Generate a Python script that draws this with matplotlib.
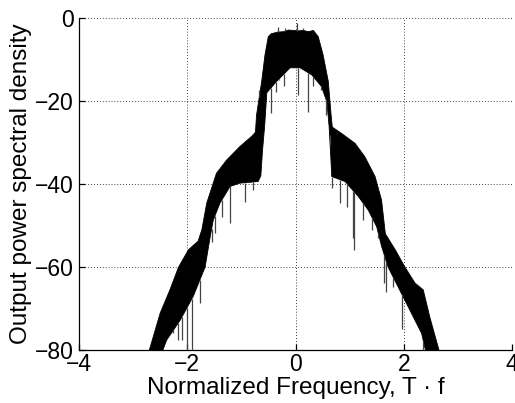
"""Output PSD vs normalized frequency (MATLAB-style look)."""
import numpy as np
import matplotlib
matplotlib.use("Agg")
import matplotlib.pyplot as plt

plt.rcParams["font.family"] = ["Liberation Sans", "DejaVu Sans"]

# upper edge of the dense PSD band, dB
up_freq = [-2.72, -2.70, -2.50, -2.32, -2.16, -2.05, -1.98, -1.89, -1.80, -1.73,
           -1.64, -1.58, -1.52, -1.46, -1.27, -1.03, -0.80, -0.74, -0.72, -0.625,
           -0.564, -0.503, -0.45, -0.33, -0.22, -0.13, -0.04, 0.05, 0.145, 0.24,
           0.33, 0.42, 0.51, 0.606, 0.655, 0.68, 0.85, 1.10, 1.28, 1.47,
           1.59, 1.66, 1.85, 2.02, 2.21, 2.36, 2.48, 2.65, 2.68]
up_db = [-82, -80, -71.1, -65.5, -60, -57.5, -55.9, -54.8, -53.8, -51.0,
         -44.6, -42.2, -39.8, -37.4, -34.2, -31.0, -28.4, -27.5, -23.4, -15.3,
         -8.9, -4.5, -3.8, -3.4, -3.3, -2.9, -3.0, -3.1, -3.0, -3.3,
         -3.0, -4.5, -8.9, -15.3, -23, -26.3, -27.8, -30.2, -33.4, -38.2,
         -43.9, -52, -56, -60, -63.9, -65.5, -72, -80, -82]

# lower edge of the dense band, dB
lo_freq = [-2.72, -2.45, -2.38, -2.13, -1.89, -1.67, -1.58, -1.52, -1.395, -1.21,
           -1.03, -0.69, -0.64, -0.61, -0.57, -0.53, -0.35, -0.10, 0.085, 0.30,
           0.48, 0.58, 0.62, 0.65, 0.67, 0.915, 1.16, 1.345, 1.50, 1.59,
           1.71, 2.02, 2.33, 2.40, 2.68]
lo_db = [-82, -80, -77.6, -72.8, -67.1, -60, -53, -48.7, -44.6, -40.6,
         -39.8, -39.4, -38, -32, -26, -18, -15.3, -12.0, -12.0, -13.7,
         -16.5, -20.2, -26, -33, -38.2, -39.4, -43, -46.3, -50.3, -55,
         -60, -68, -76, -80, -82]

# deep notches sticking out below the band
dip_freq = [-2.26, -2.165, -2.10, -2.01, -1.92, -1.765, -1.55, -1.49, -1.36, -1.21,
            -0.93, -0.78, -0.46, -0.36, -0.30, -0.21, 0.04, 0.237, 0.33, 0.47,
            0.565, 0.64, 0.674, 0.82, 0.945, 1.07, 1.08, 1.25, 1.41, 1.53,
            1.64, 1.68, 1.80, 1.96, 2.15, 2.36]
dip_db = [-76, -77.6, -77.6, -80, -80, -68.7, -54, -51.8, -47.9, -49.5,
          -44.3, -41.5, -22.9, -17.8, -14.9, -16.5, -18.5, -22.6, -16.5, -17.3,
          -23.4, -28.2, -41, -44.6, -45.5, -53, -56, -48.7, -51, -53,
          -63.8, -66, -64.7, -75, -71.6, -80]

# peaks sticking out above the band
peak_freq = [-0.67, -0.33, -0.19, 0.02, 0.14]
peak_db = [-17.3, -2.1, -2.5, -1.3, -2.5]

fig, ax = plt.subplots(figsize=(5.15, 4.03), dpi=100)
fig.subplots_adjust(left=0.1534, right=0.9942, bottom=0.1315, top=0.9553)

ax.fill(np.r_[up_freq, lo_freq[::-1]], np.r_[up_db, lo_db[::-1]],
        color="black", lw=0.6, zorder=3)
ax.vlines(dip_freq, np.interp(dip_freq, lo_freq, lo_db), dip_db,
          color="#444444", lw=0.9, zorder=3)
ax.vlines(peak_freq, np.interp(peak_freq, up_freq, up_db), peak_db,
          color="#444444", lw=0.9, zorder=3)

ax.set_xlim(-4, 4)
ax.set_ylim(-80, 0)
ax.set_xticks([-4, -2, 0, 2, 4])
ax.set_yticks([-80, -60, -40, -20, 0])
ax.grid(True, color="black", linestyle=(0, (1, 2.5)), linewidth=0.6)
ax.set_axisbelow(True)
for s in ("top", "right"):
    ax.spines[s].set_visible(False)
ax.spines["left"].set_linewidth(0.9)
ax.spines["bottom"].set_linewidth(0.9)
ax.tick_params(direction="in", length=4, width=0.9, labelsize=16.5)
ax.tick_params(axis="x", pad=2)
ax.tick_params(axis="y", pad=4)

ax.set_xlabel("Normalized Frequency, T \u00b7 f", fontsize=17.5, labelpad=1)
ax.set_ylabel("Output power spectral density", fontsize=17.5, labelpad=2)

fig.savefig("out.png", dpi=100)
